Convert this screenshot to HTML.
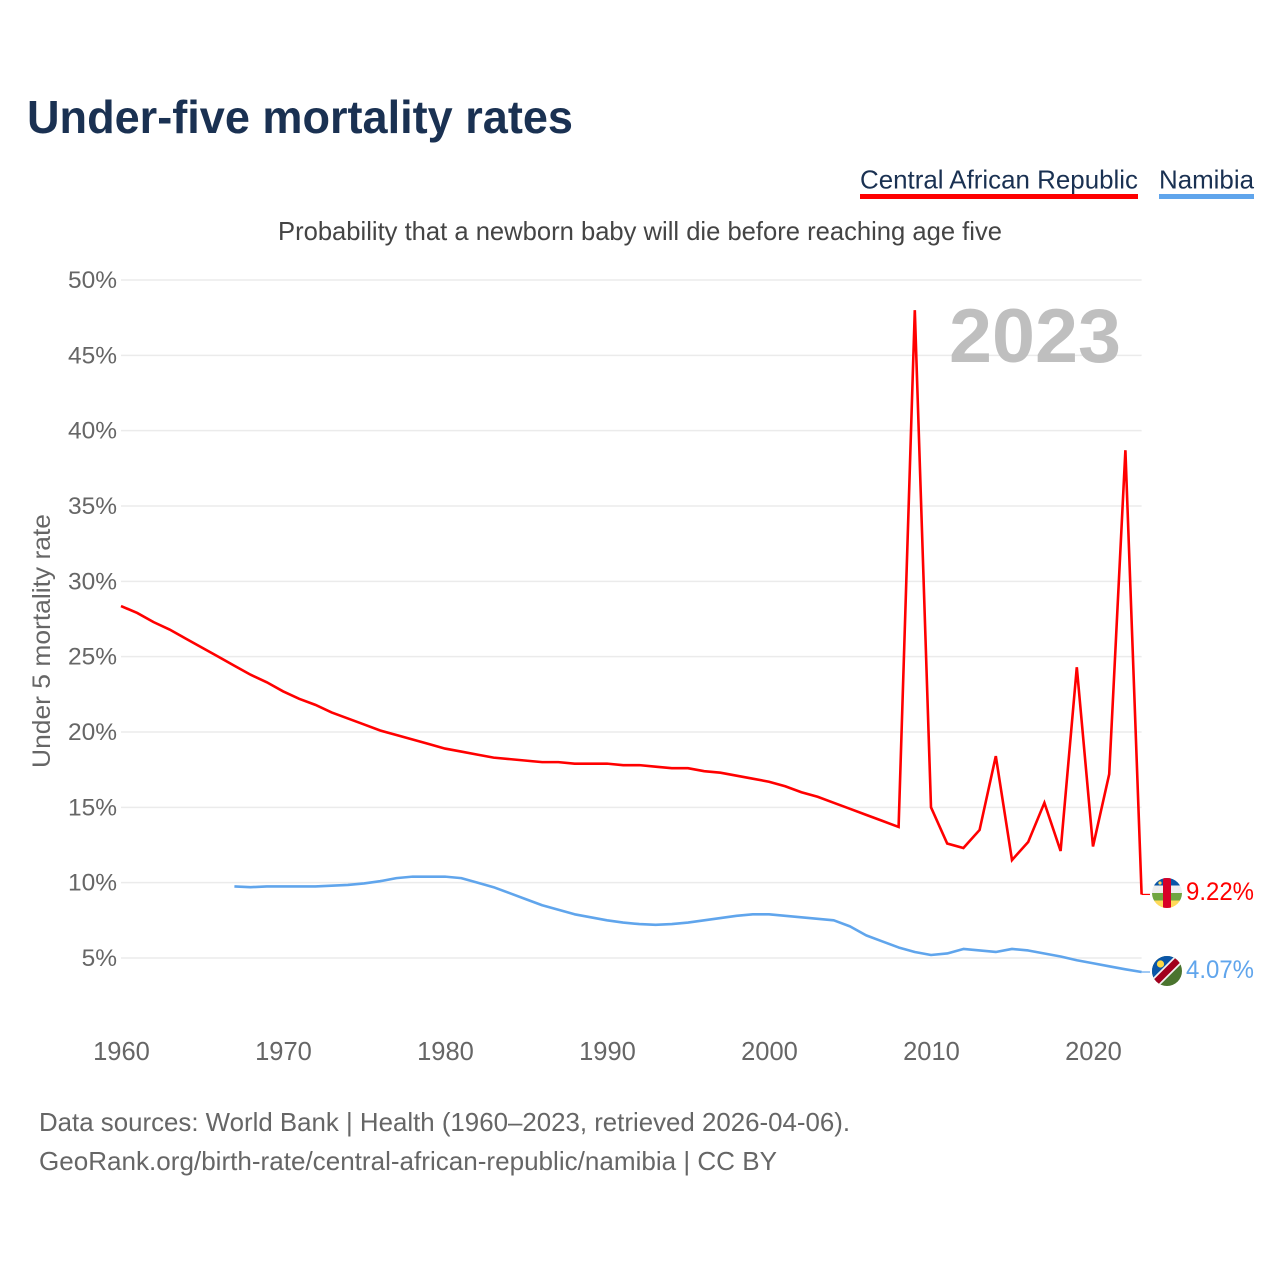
<!DOCTYPE html>
<html lang="en">
<head>
<meta charset="utf-8">
<title>Under-five mortality rates</title>
<style>
html,body{margin:0;padding:0;background:#fff;width:1280px;height:1280px;overflow:hidden}
svg{display:block;font-family:"Liberation Sans",sans-serif}
</style>
</head>
<body>
<svg id="chart" width="1280" height="1280" viewBox="0 0 1280 1280" xmlns="http://www.w3.org/2000/svg">
  <defs>
    <clipPath id="clip-caf"><circle cx="1167" cy="893" r="15"/></clipPath>
    <clipPath id="clip-nam"><circle cx="1167" cy="971" r="15"/></clipPath>
  </defs>
  <text x="27" y="133" font-size="46" font-weight="700" fill="#1a3152" textLength="546" lengthAdjust="spacingAndGlyphs">Under-five mortality rates</text>

  <g>
    <text x="860" y="188.5" font-size="26" fill="#1a3152" textLength="278" lengthAdjust="spacingAndGlyphs">Central African Republic</text>
    <rect x="860" y="194" width="278" height="5" fill="#ff0000"/>
  </g>
  <g>
    <text x="1159" y="188.5" font-size="26" fill="#1a3152" textLength="95" lengthAdjust="spacingAndGlyphs">Namibia</text>
    <rect x="1159" y="194" width="95" height="5" fill="#60a5ec"/>
  </g>

  <text x="278" y="240" font-size="26" fill="#444444" textLength="724" lengthAdjust="spacingAndGlyphs">Probability that a newborn baby will die before reaching age five</text>

  <g id="grid"></g>
  <g id="yticks"></g>
  <g id="xticks"></g>

  <text x="949" y="362" font-size="76" font-weight="700" fill="#bfbfbf" textLength="172" lengthAdjust="spacingAndGlyphs">2023</text>

  <text transform="translate(50 768) rotate(-90)" font-size="25" fill="#666666" textLength="254" lengthAdjust="spacingAndGlyphs">Under 5 mortality rate</text>

  <path id="line-caf" fill="none" stroke="#ff0000" stroke-width="2.6" stroke-linejoin="miter"/>
  <path id="line-nam" fill="none" stroke="#60a5ec" stroke-width="2.6" stroke-linejoin="round"/>
  <path id="connector-caf" fill="none" stroke="#ff0000" stroke-width="1.2"/>
  <path id="connector-nam" fill="none" stroke="#60a5ec" stroke-width="1.2"/>

  <g clip-path="url(#clip-caf)">
    <rect x="1152" y="878" width="30" height="7.5" fill="#0a56a8"/>
    <rect x="1152" y="885.5" width="30" height="7.5" fill="#eeeeee"/>
    <rect x="1152" y="893" width="30" height="7.5" fill="#6fa640"/>
    <rect x="1152" y="900.5" width="30" height="7.5" fill="#ffda5a"/>
    <rect x="1163" y="878" width="8" height="30" fill="#d80027"/>
    <circle cx="1160" cy="883" r="1.6" fill="#ffda5a"/>
  </g>
  <g clip-path="url(#clip-nam)">
    <rect x="1152" y="956" width="30" height="30" fill="#4b742f"/>
    <polygon points="1152,956 1182,956 1152,986" fill="#0a56a8"/>
    <line x1="1152" y1="986" x2="1182" y2="956" stroke="#f2f2f2" stroke-width="10"/>
    <line x1="1152" y1="986" x2="1182" y2="956" stroke="#a2001d" stroke-width="6.5"/>
    <circle cx="1160.5" cy="964" r="3.6" fill="#ffda44"/>
  </g>

  <text id="value-caf" x="1186" y="900" font-size="25" fill="#ff0000" textLength="68" lengthAdjust="spacingAndGlyphs"></text>
  <text id="value-nam" x="1186" y="978" font-size="25" fill="#60a5ec" textLength="68" lengthAdjust="spacingAndGlyphs"></text>

  <text x="39" y="1131" font-size="26" fill="#666666" textLength="811" lengthAdjust="spacingAndGlyphs">Data sources: World Bank | Health (1960–2023, retrieved 2026-04-06).</text>
  <text x="39" y="1170" font-size="26" fill="#666666" textLength="738" lengthAdjust="spacingAndGlyphs">GeoRank.org/birth-rate/central-african-republic/namibia | CC BY</text>
</svg>
<script>
const yTickValues = [5, 10, 15, 20, 25, 30, 35, 40, 45, 50];
const xTickYears = [1960, 1970, 1980, 1990, 2000, 2010, 2020];
const cafStartYear = 1960;
const cafValues = [28.36,27.9,27.3,26.8,26.2,25.6,25.0,24.4,23.8,23.3,
  22.7,22.2,21.8,21.3,20.9,20.5,20.1,19.8,19.5,19.2,
  18.9,18.7,18.5,18.3,18.2,18.1,18.0,18.0,17.9,17.9,
  17.9,17.8,17.8,17.7,17.6,17.6,17.4,17.3,17.1,16.9,
  16.7,16.4,16.0,15.7,15.3,14.9,14.5,14.1,13.7,48.0,
  15.0,12.6,12.3,13.5,18.4,11.5,12.7,15.3,12.1,24.3,
  12.4,17.2,38.7,9.22];
const namStartYear = 1967;
const namValues = [9.75,9.7,9.75,9.75,9.75,9.75,9.8,9.85,9.95,10.1,
  10.3,10.4,10.4,10.4,10.3,10.0,9.7,9.3,8.9,8.5,
  8.2,7.9,7.7,7.5,7.35,7.25,7.2,7.25,7.35,7.5,
  7.65,7.8,7.9,7.9,7.8,7.7,7.6,7.5,7.1,6.5,
  6.1,5.7,5.4,5.2,5.3,5.6,5.5,5.4,5.6,5.5,
  5.3,5.1,4.85,4.65,4.45,4.25,4.07];

const SVGNS = 'http://www.w3.org/2000/svg';
const xOf = year => 121 + (year - 1960) * 16.2;
const yOf = value => 958 - (value - 5) * 15.067;
const X_END = xOf(2023);

function linePath(start, values) {
  return values.map((v, i) => (i ? 'L' : 'M') + xOf(start + i).toFixed(2) + ' ' + yOf(v).toFixed(2)).join(' ');
}

const grid = document.getElementById('grid');
const yticks = document.getElementById('yticks');
yTickValues.forEach(v => {
  const l = document.createElementNS(SVGNS, 'line');
  
  
  l.setAttribute('x1', xOf(1960));
  l.setAttribute('x2', X_END);
  l.setAttribute('y1', yOf(v));
  l.setAttribute('y2', yOf(v));
  l.setAttribute('stroke', '#ebebeb');
  l.setAttribute('stroke-width', '1.5');
  grid.appendChild(l);
  const t = document.createElementNS(SVGNS, 'text');
  
  
  t.setAttribute('x', 117);
  t.setAttribute('y', yOf(v) + 8);
  t.setAttribute('text-anchor', 'end');
  t.setAttribute('font-size', '24.5');
  t.setAttribute('fill', '#666666');
  t.textContent = v + '%';
  yticks.appendChild(t);
});

const xticks = document.getElementById('xticks');
xTickYears.forEach(y => {
  const t = document.createElementNS(SVGNS, 'text');
  
  
  t.setAttribute('x', xOf(y) + 0.5);
  t.setAttribute('y', 1060);
  t.setAttribute('text-anchor', 'middle');
  t.setAttribute('font-size', '25.5');
  t.setAttribute('fill', '#666666');
  t.textContent = y;
  xticks.appendChild(t);
});

document.getElementById('line-caf').setAttribute('d', linePath(cafStartYear, cafValues));
document.getElementById('line-nam').setAttribute('d', linePath(namStartYear, namValues));

const cafLast = cafValues[cafValues.length - 1];
const namLast = namValues[namValues.length - 1];
document.getElementById('connector-caf').setAttribute('d', 'M' + X_END + ' ' + yOf(cafLast) + ' H1150');
document.getElementById('connector-nam').setAttribute('d', 'M' + X_END + ' ' + yOf(namLast) + ' H1150');
document.getElementById('value-caf').textContent = cafLast.toFixed(2) + '%';
document.getElementById('value-nam').textContent = namLast.toFixed(2) + '%';
</script>
</body>
</html>
